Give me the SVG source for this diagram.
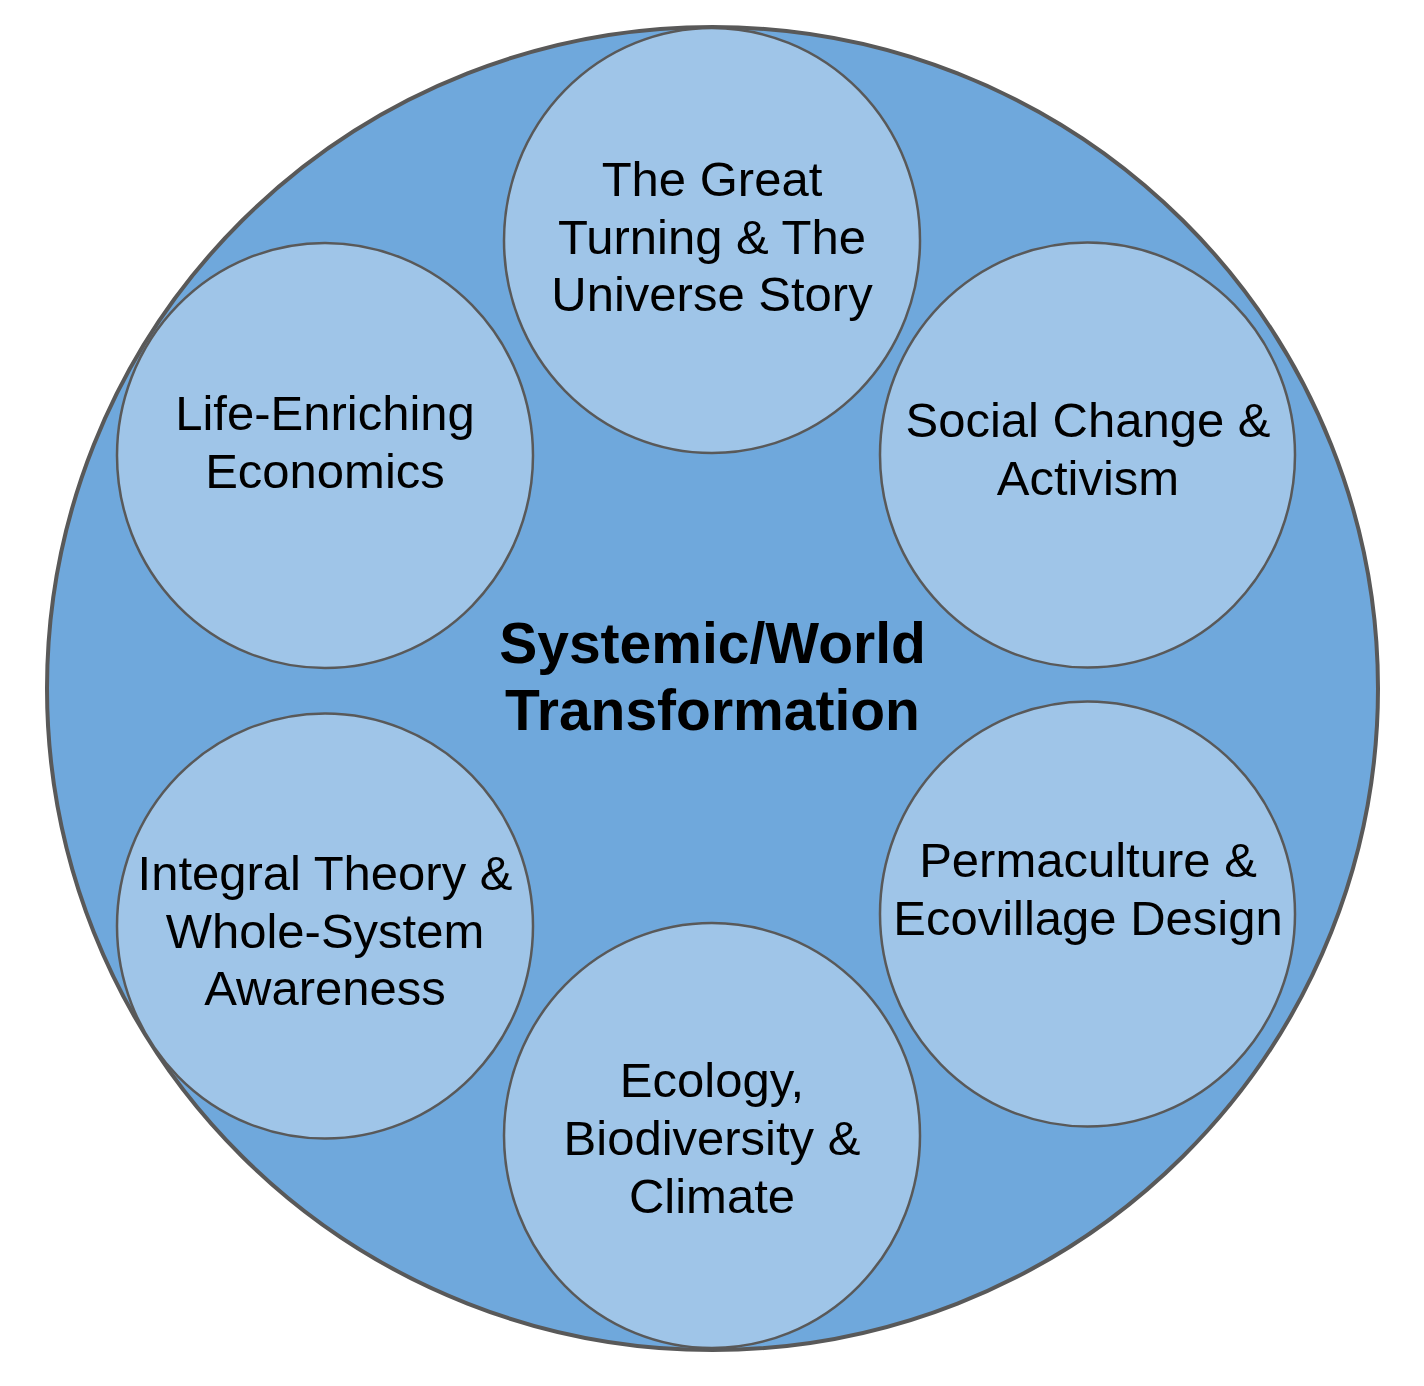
<svg xmlns="http://www.w3.org/2000/svg" width="1424" height="1386" viewBox="0 0 1424 1386">
<style>
.bg{fill:#ffffff}
.outer{fill:#6fa8dc;stroke:#595959;stroke-width:4}
.inner{fill:#9fc5e8;stroke:#595959;stroke-width:2.5}
.lbl{font-family:"Liberation Sans",Arial,sans-serif;font-size:49px;fill:#000000;text-anchor:middle}
.title{font-family:"Liberation Sans",Arial,sans-serif;font-size:57px;font-weight:bold;fill:#000000;text-anchor:middle}
</style>
<rect class="bg" x="0" y="0" width="1424" height="1386"/>
<g id="world">
<ellipse class="outer" cx="712.5" cy="688.5" rx="665.5" ry="661.5"/>
<text class="title" x="712.5"><tspan x="712.5" y="663">Systemic/World</tspan><tspan x="712.5" y="730">Transformation</tspan></text>
</g>
<g id="connectors"></g>
<g id="great-turning">
<ellipse class="inner" cx="712" cy="240.5" rx="208" ry="212.5"/>
<text class="lbl"><tspan x="712" y="196">The Great</tspan><tspan x="712" y="253.5">Turning &amp; The</tspan><tspan x="712" y="311">Universe Story</tspan></text>
</g>
<g id="life-enriching">
<ellipse class="inner" cx="325" cy="455.5" rx="208" ry="212.5"/>
<text class="lbl"><tspan x="325" y="430">Life-Enriching</tspan><tspan x="325" y="487.5">Economics</tspan></text>
</g>
<g id="social-change">
<ellipse class="inner" cx="1087.5" cy="455" rx="207.5" ry="212.5"/>
<text class="lbl"><tspan x="1088" y="437">Social Change &amp;</tspan><tspan x="1088" y="495">Activism</tspan></text>
</g>
<g id="integral">
<ellipse class="inner" cx="325" cy="926" rx="208" ry="212.5"/>
<text class="lbl"><tspan x="325" y="890">Integral Theory &amp;</tspan><tspan x="325" y="947.5">Whole-System</tspan><tspan x="325" y="1005">Awareness</tspan></text>
</g>
<g id="permaculture">
<ellipse class="inner" cx="1087.5" cy="914" rx="207.5" ry="212.5"/>
<text class="lbl"><tspan x="1088" y="877">Permaculture &amp;</tspan><tspan x="1088" y="935">Ecovillage Design</tspan></text>
</g>
<g id="ecology">
<ellipse class="inner" cx="712" cy="1135.5" rx="208" ry="212.5"/>
<text class="lbl"><tspan x="712" y="1097">Ecology,</tspan><tspan x="712" y="1155">Biodiversity &amp;</tspan><tspan x="712" y="1213">Climate</tspan></text>
</g>
</svg>
